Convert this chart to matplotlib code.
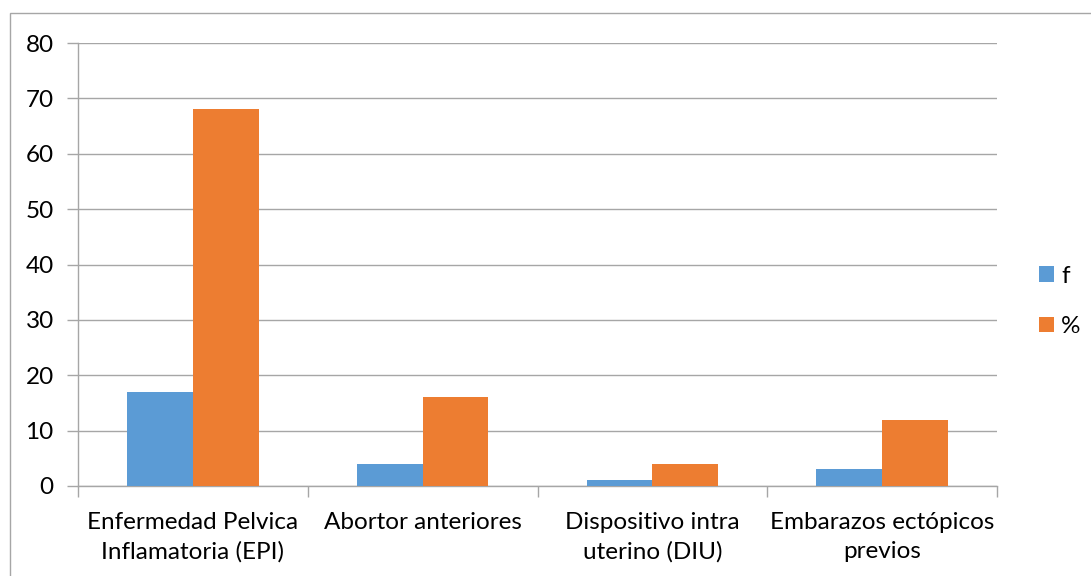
import matplotlib
matplotlib.use("Agg")
import matplotlib.pyplot as plt
import numpy as np
from matplotlib.patches import Rectangle

categories = ["Enfermedad Pelvica\nInflamatoria (EPI)", "Abortor anteriores",
              "Dispositivo intra\nuterino (DIU)", "Embarazos ectópicos\nprevios"]
f_values = [17, 4, 1, 3]
pct_values = [68, 16, 4, 12]
series_names = ["f", "%"]
yticks = [0, 10, 20, 30, 40, 50, 60, 70, 80]

plt.rcParams['font.family'] = ['Lato', 'DejaVu Sans']
FS = 17.5
W, H = 1091, 576
fig = plt.figure(figsize=(W/100, H/100), dpi=100)
ax = fig.add_axes([78/W, 1-486/H, (997-78)/W, (486-43)/H])

blue = "#5B9BD5"
orange = "#ED7D31"
bw = 0.2857
x = np.arange(len(categories))
ax.bar(x - bw/2, f_values, width=bw, color=blue, zorder=3, label=series_names[0])
ax.bar(x + bw/2, pct_values, width=bw, color=orange, zorder=3, label=series_names[1])

ax.set_xlim(-0.5, len(categories) - 0.5)
ax.set_ylim(0, 80)
ax.set_yticks(yticks)
ax.set_yticklabels([str(v) for v in yticks], fontsize=FS)
ax.grid(axis='y', color='#A6A6A6', linewidth=1.0, zorder=0)
ax.tick_params(axis='y', length=8, width=1, color='#A6A6A6', pad=9.5)

ax.set_xticks(x)
ax.set_xticklabels(categories, fontsize=FS, linespacing=1.42)
ax.set_xticks(np.arange(-0.5, len(categories)), minor=True)
ax.tick_params(axis='x', which='major', length=0, pad=19)
ax.tick_params(axis='x', which='minor', length=8, width=1, color='#A6A6A6', direction='out')

for s in ['top', 'right']:
    ax.spines[s].set_visible(False)
for s in ['left', 'bottom']:
    ax.spines[s].set_color('#A6A6A6')
    ax.spines[s].set_linewidth(1.0)

leg = fig.legend(loc='upper left', bbox_to_anchor=(1017/W, 1-244/H), frameon=False,
                 fontsize=FS, handlelength=0.62, handleheight=0.62,
                 handletextpad=0.3, labelspacing=1.2)

fig.patches.append(Rectangle((10/W, -0.1), 1.2, 1 - 13/H + 0.1, transform=fig.transFigure,
                             fill=False, edgecolor='#A6A6A6', linewidth=1.0))

fig.savefig("out.png", dpi=100)
